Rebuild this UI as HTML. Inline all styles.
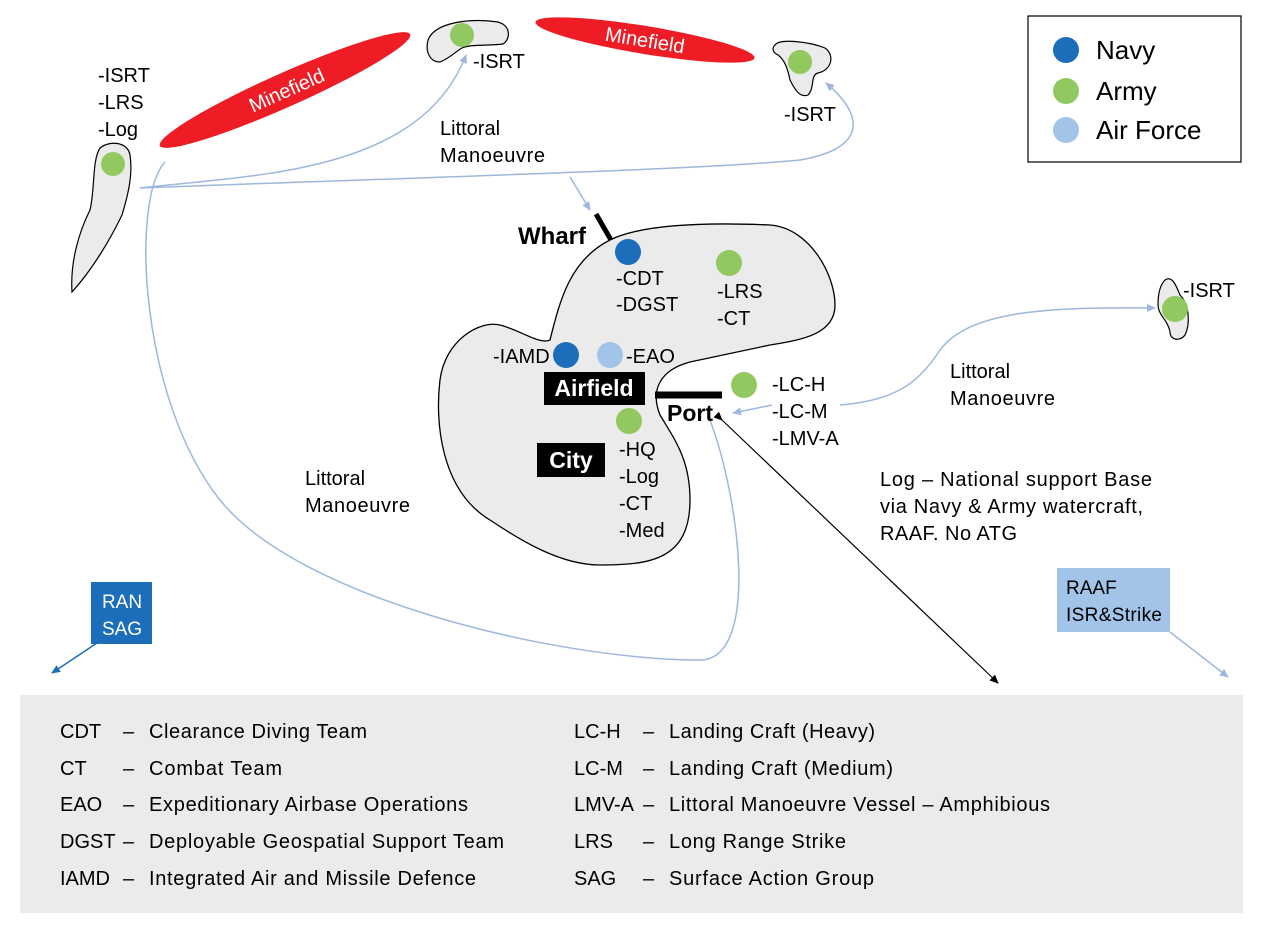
<!DOCTYPE html>
<html><head><meta charset="utf-8"><style>
body{margin:0;background:#fff;}
svg{display:block;font-family:"Liberation Sans",Arial,sans-serif;}
</style></head><body>
<svg width="1263" height="927" viewBox="0 0 1263 927" xmlns="http://www.w3.org/2000/svg">
<defs>
<marker id="ab" markerWidth="10" markerHeight="10" refX="8" refY="5" orient="auto" markerUnits="userSpaceOnUse"><path d="M0,1 L9,5 L0,9 Z" fill="#9db8dc"/></marker>
<marker id="ak" markerWidth="10" markerHeight="10" refX="8" refY="5" orient="auto" markerUnits="userSpaceOnUse"><path d="M0,1 L9,5 L0,9 Z" fill="#000"/></marker>
<marker id="an" markerWidth="10" markerHeight="10" refX="8" refY="5" orient="auto" markerUnits="userSpaceOnUse"><path d="M0,1 L9,5 L0,9 Z" fill="#1c6dba"/></marker>
</defs>

<!-- minefields -->
<ellipse cx="285" cy="90" rx="137" ry="17" fill="#ee1c25" transform="rotate(-24 285 90)"/>
<text x="287" y="97" fill="#fff" font-size="20" text-anchor="middle" transform="rotate(-24 287 91)">Minefield</text>
<ellipse cx="645" cy="40" rx="111" ry="14" fill="#ee1c25" transform="rotate(9.3 645 40)"/>
<text x="645" y="47" fill="#fff" font-size="20" text-anchor="middle" transform="rotate(9.3 645 40)">Minefield</text>

<!-- small islands -->
<path d="M428,40 C435,22 470,18 498,22 C512,26 510,40 503,44 C490,46 470,44 462,48 C455,52 450,58 440,62 C430,62 425,52 428,40 Z" fill="#ebebeb" stroke="#000" stroke-width="1.2"/>
<circle cx="462" cy="35" r="12" fill="#92c860"/>
<path d="M775,45 C780,38 810,42 825,48 C835,55 832,70 818,73 C810,75 815,88 808,95 C800,98 795,90 790,80 C788,70 785,60 778,55 C772,52 772,48 775,45 Z" fill="#ebebeb" stroke="#000" stroke-width="1.2"/>
<circle cx="800" cy="62" r="12" fill="#92c860"/>
<path d="M100,148 C110,140 128,142 130,155 C133,175 128,195 122,215 C110,240 92,270 72,292 C70,260 80,230 90,210 C95,190 92,160 100,148 Z" fill="#ebebeb" stroke="#000" stroke-width="1.2"/>
<circle cx="113" cy="164" r="12" fill="#92c860"/>
<path d="M1165,280 C1172,275 1176,285 1180,295 C1190,305 1190,325 1185,335 C1180,342 1170,340 1170,332 C1168,320 1158,315 1158,305 C1158,295 1160,285 1165,280 Z" fill="#ebebeb" stroke="#000" stroke-width="1.2"/>
<circle cx="1175" cy="309" r="13" fill="#92c860"/>

<!-- main island -->
<path d="M610,240 C640,225 700,222 770,225 C810,228 835,275 835,305 C835,335 800,340 770,345 L690,362 C660,370 650,390 660,415 C675,440 690,460 690,500 C690,560 650,565 600,565 C560,565 520,540 490,520 C440,490 435,420 440,380 C445,340 480,320 500,325 C520,330 540,345 550,340 C560,300 570,260 610,240 Z" fill="#ebebeb" stroke="#000" stroke-width="1.3"/>
<line x1="596" y1="214" x2="611" y2="240" stroke="#000" stroke-width="5"/>
<line x1="655" y1="395" x2="722" y2="395" stroke="#000" stroke-width="7"/>

<!-- connectors -->
<g fill="none" stroke="#9db8dc" stroke-width="1.5">
<path d="M140,188 C250,175 420,175 466,55" marker-end="url(#ab)"/>
<path d="M140,188 C400,178 700,170 800,160 C860,150 870,120 826,83" marker-end="url(#ab)"/>
<path d="M570,177 L590,210" marker-end="url(#ab)"/>
<path d="M710,420 C740,500 760,660 700,660 C560,660 300,600 220,500 C140,400 130,200 165,162"/>
<path d="M840,405 C900,400 920,380 940,350 C970,310 1050,307 1155,308" marker-end="url(#ab)"/>
<path d="M772,405 L733,413" marker-end="url(#ab)"/>
<path d="M1170,632 L1228,677" marker-end="url(#ab)"/>
</g>
<line x1="722" y1="420" x2="998" y2="683" stroke="#000" stroke-width="1.2" marker-start="url(#ak)" marker-end="url(#ak)"/>
<line x1="97" y1="643" x2="52" y2="673" stroke="#1c6dba" stroke-width="1.5" marker-end="url(#an)"/>

<!-- dots -->
<circle cx="628" cy="252" r="13" fill="#1c6dba"/>
<circle cx="729" cy="263" r="13" fill="#92c860"/>
<circle cx="566" cy="355" r="13" fill="#1c6dba"/>
<circle cx="610" cy="355" r="13" fill="#a1c4e8"/>
<circle cx="629" cy="421" r="13" fill="#92c860"/>
<circle cx="744" cy="385" r="13" fill="#92c860"/>

<!-- text -->
<g font-size="20" fill="#000">
<text x="98" y="82">-ISRT</text><text x="98" y="109">-LRS</text><text x="98" y="136">-Log</text>
<text x="473" y="68">-ISRT</text>
<text x="784" y="121">-ISRT</text>
<text x="1183" y="297">-ISRT</text>
<text x="440" y="135">Littoral</text><text x="440" y="162" textLength="105">Manoeuvre</text>
<text x="950" y="378">Littoral</text><text x="950" y="405" textLength="105">Manoeuvre</text>
<text x="305" y="485">Littoral</text><text x="305" y="512" textLength="105">Manoeuvre</text>
<text x="616" y="285">-CDT</text><text x="616" y="311">-DGST</text>
<text x="717" y="298">-LRS</text><text x="717" y="325">-CT</text>
<text x="493" y="363">-IAMD</text><text x="626" y="363">-EAO</text>
<text x="619" y="456">-HQ</text><text x="619" y="483">-Log</text><text x="619" y="510">-CT</text><text x="619" y="537">-Med</text>
<text x="772" y="391">-LC-H</text><text x="772" y="418">-LC-M</text><text x="772" y="445">-LMV-A</text>
<text x="880" y="486" textLength="272">Log – National support Base</text>
<text x="880" y="513" textLength="263">via Navy &amp; Army watercraft,</text>
<text x="880" y="540" textLength="137">RAAF. No ATG</text>
</g>
<text x="518" y="244" font-size="24" font-weight="bold">Wharf</text>
<text x="667" y="421" font-size="23" font-weight="bold">Port</text>
<rect x="544" y="372" width="101" height="33" fill="#000"/>
<text x="594" y="396" font-size="23" font-weight="bold" fill="#fff" text-anchor="middle">Airfield</text>
<rect x="537" y="443" width="68" height="34" fill="#000"/>
<text x="571" y="468" font-size="23" font-weight="bold" fill="#fff" text-anchor="middle">City</text>

<rect x="91" y="582" width="61" height="62" fill="#1c6dba"/>
<text x="122" y="608" font-size="19" fill="#fff" text-anchor="middle">RAN</text>
<text x="122" y="635" font-size="19" fill="#fff" text-anchor="middle">SAG</text>
<rect x="1057" y="568" width="113" height="64" fill="#a1c4e8"/>
<text x="1066" y="594" font-size="19">RAAF</text>
<text x="1066" y="621" font-size="19" textLength="96">ISR&amp;Strike</text>

<!-- legend -->
<rect x="1028" y="16" width="213" height="146" fill="#fff" stroke="#000" stroke-width="1.2"/>
<circle cx="1066" cy="50" r="13" fill="#1c6dba"/><text x="1096" y="59" font-size="26">Navy</text>
<circle cx="1066" cy="91" r="13" fill="#92c860"/><text x="1096" y="100" font-size="26">Army</text>
<circle cx="1066" cy="130" r="13" fill="#a1c4e8"/><text x="1096" y="139" font-size="26">Air Force</text>

<!-- glossary -->
<rect x="20" y="695" width="1223" height="218" fill="#ebebeb"/>
<g font-size="20" fill="#000">
<text x="60" y="738">CDT</text><text x="123" y="738">–</text><text x="149" y="738" textLength="218">Clearance Diving Team</text>
<text x="60" y="775">CT</text><text x="123" y="775">–</text><text x="149" y="775" textLength="133">Combat Team</text>
<text x="60" y="811">EAO</text><text x="123" y="811">–</text><text x="149" y="811" textLength="319">Expeditionary Airbase Operations</text>
<text x="60" y="848">DGST</text><text x="123" y="848">–</text><text x="149" y="848" textLength="355">Deployable Geospatial Support Team</text>
<text x="60" y="885">IAMD</text><text x="123" y="885">–</text><text x="149" y="885" textLength="327">Integrated Air and Missile Defence</text>
<text x="574" y="738">LC-H</text><text x="643" y="738">–</text><text x="669" y="738" textLength="206">Landing Craft (Heavy)</text>
<text x="574" y="775">LC-M</text><text x="643" y="775">–</text><text x="669" y="775" textLength="224">Landing Craft (Medium)</text>
<text x="574" y="811">LMV-A</text><text x="643" y="811">–</text><text x="669" y="811" textLength="381">Littoral Manoeuvre Vessel – Amphibious</text>
<text x="574" y="848">LRS</text><text x="643" y="848">–</text><text x="669" y="848" textLength="177">Long Range Strike</text>
<text x="574" y="885">SAG</text><text x="643" y="885">–</text><text x="669" y="885" textLength="205">Surface Action Group</text>
</g>
</svg>
</body></html>
